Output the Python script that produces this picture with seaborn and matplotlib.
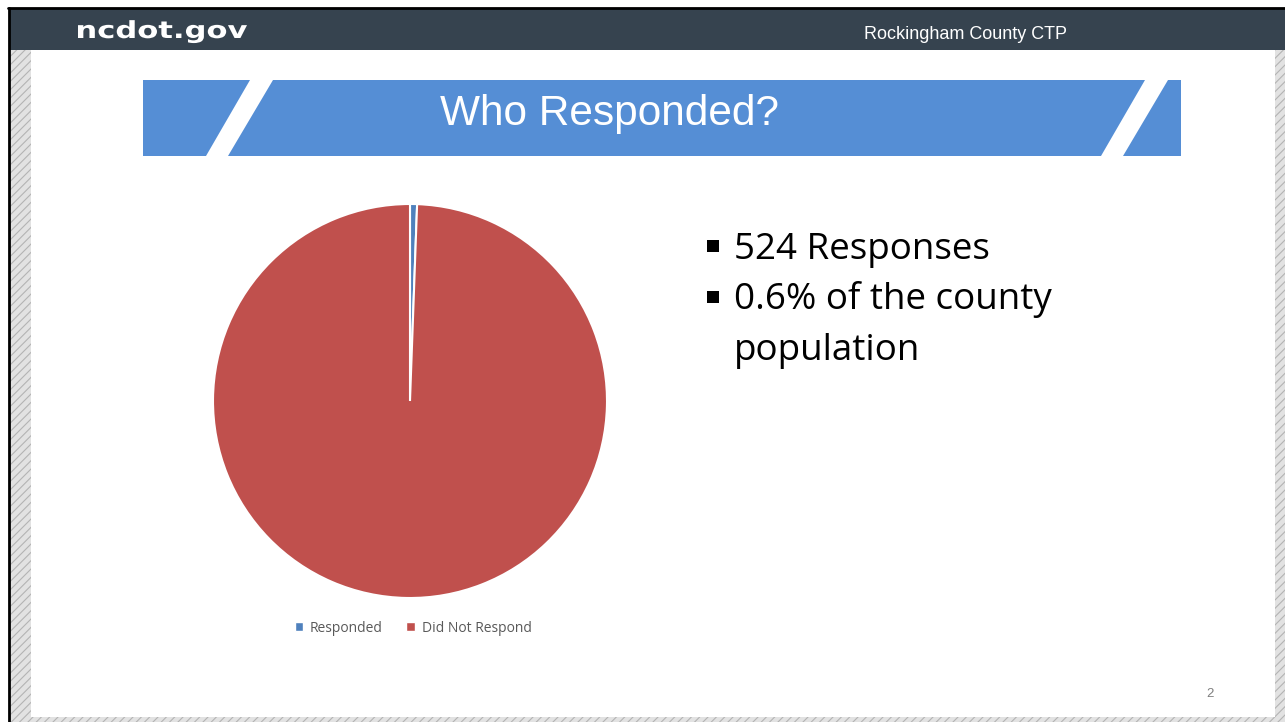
import matplotlib
matplotlib.use("Agg")
import matplotlib.pyplot as plt
import matplotlib.patches as mpatches
from matplotlib.textpath import TextPath
from matplotlib.font_manager import FontProperties
from matplotlib.transforms import Affine2D
import seaborn as sns

# data
labels = ["Responded", "Did Not Respond"]
counts = [524, 90476]          # 524 of ~91,000 residents -> ~0.6%
colors = ["#4F81BD", "#C0504D"]
bullets = ["524 Responses", "0.6% of the county", "population"]
title = "Who Responded?"

sns.set_theme(style="white")
plt.rcParams["font.family"] = ["Liberation Sans", "DejaVu Sans"]

W, H = 1285, 722
fig = plt.figure(figsize=(W / 100, H / 100), dpi=100)
fig.patch.set_facecolor("white")

# full-page drawing layer in pixel coordinates
bg = fig.add_axes([0, 0, 1, 1])
bg.set_xlim(0, W)
bg.set_ylim(H, 0)
bg.axis("off")

# hatched frame + outer black line
plt.rcParams["hatch.linewidth"] = 0.8
bg.add_patch(mpatches.Rectangle((9, 8), W - 9, H - 8, facecolor="#e2e2e2",
                                edgecolor="#b4b4b4", hatch="////", lw=0))
bg.plot([8.5, 8.5], [8, H], color="black", lw=2)
bg.plot([8, W], [8, 8], color="black", lw=2)
# white slide body
bg.add_patch(mpatches.Rectangle((31, 50), 1244, 667, facecolor="white", lw=0))
# header bar
bg.add_patch(mpatches.Rectangle((10, 9), W - 10, 41, facecolor="#36434F", lw=0))

# wide bold logo text, stretched to the reference width
tp = TextPath((0, 0), "ncdot.gov", size=23.5,
              prop=FontProperties(family="DejaVu Sans", weight="bold"))
ext = tp.get_extents()
sx = 169 / ext.width
logo = Affine2D().translate(-ext.x0, 0).scale(sx, -1).translate(78, 38).transform_path(tp)
bg.add_patch(mpatches.PathPatch(logo, facecolor="white", lw=0))

bg.text(965, 39, "Rockingham County CTP", color="white", fontsize=13,
        va="baseline", ha="center")

# title banner with white slashes
bg.add_patch(mpatches.Rectangle((143, 80), 1038, 76, facecolor="#558ED5", lw=0))
for top_l, bot_l in [(250, 206), (1145, 1101)]:
    bg.add_patch(mpatches.Polygon([(top_l, 80), (top_l + 23, 80), (bot_l + 22, 156),
                                   (bot_l, 156)], closed=True, facecolor="white", lw=0))
bg.text(610, 114, title, color="white", fontsize=30.5, va="center", ha="center")

# bullets
for i, line in enumerate(bullets):
    base = 259 + i * 50.5
    if i < 2:
        bg.add_patch(mpatches.Rectangle((707, base - 19), 12, 12, facecolor="black", lw=0))
    bg.text(734, base, line, fontsize=26.5, va="baseline", ha="left", color="black",
            family=["Open Sans", "DejaVu Sans"])

# page number
bg.text(1210, 694, "2", fontsize=9.5, color="#7f7f7f", va="center", ha="center")

# pie
pie_ax = fig.add_axes([213 / W, (H - 598) / H, 394 / W, 394 / H])
pie_ax.pie(counts, colors=colors, startangle=90, counterclock=False,
           wedgeprops=dict(edgecolor="white", linewidth=1.5))
pie_ax.set_xlim(-1, 1)
pie_ax.set_ylim(-1, 1)
pie_ax.set_aspect("equal")
pie_ax.axis("off")

handles = [mpatches.Patch(facecolor=c, label=l) for c, l in zip(colors, labels)]
leg = fig.legend(handles=handles, loc="center", bbox_to_anchor=(413 / W, 1 - 628 / H),
                 ncol=2, frameon=False, fontsize=10, handlelength=0.6, handleheight=0.6,
                 handletextpad=0.5, columnspacing=1.7)
for t in leg.get_texts():
    t.set_color("#595959")
    t.set_family(["Open Sans", "DejaVu Sans"])

fig.savefig("out.png", dpi=100)
